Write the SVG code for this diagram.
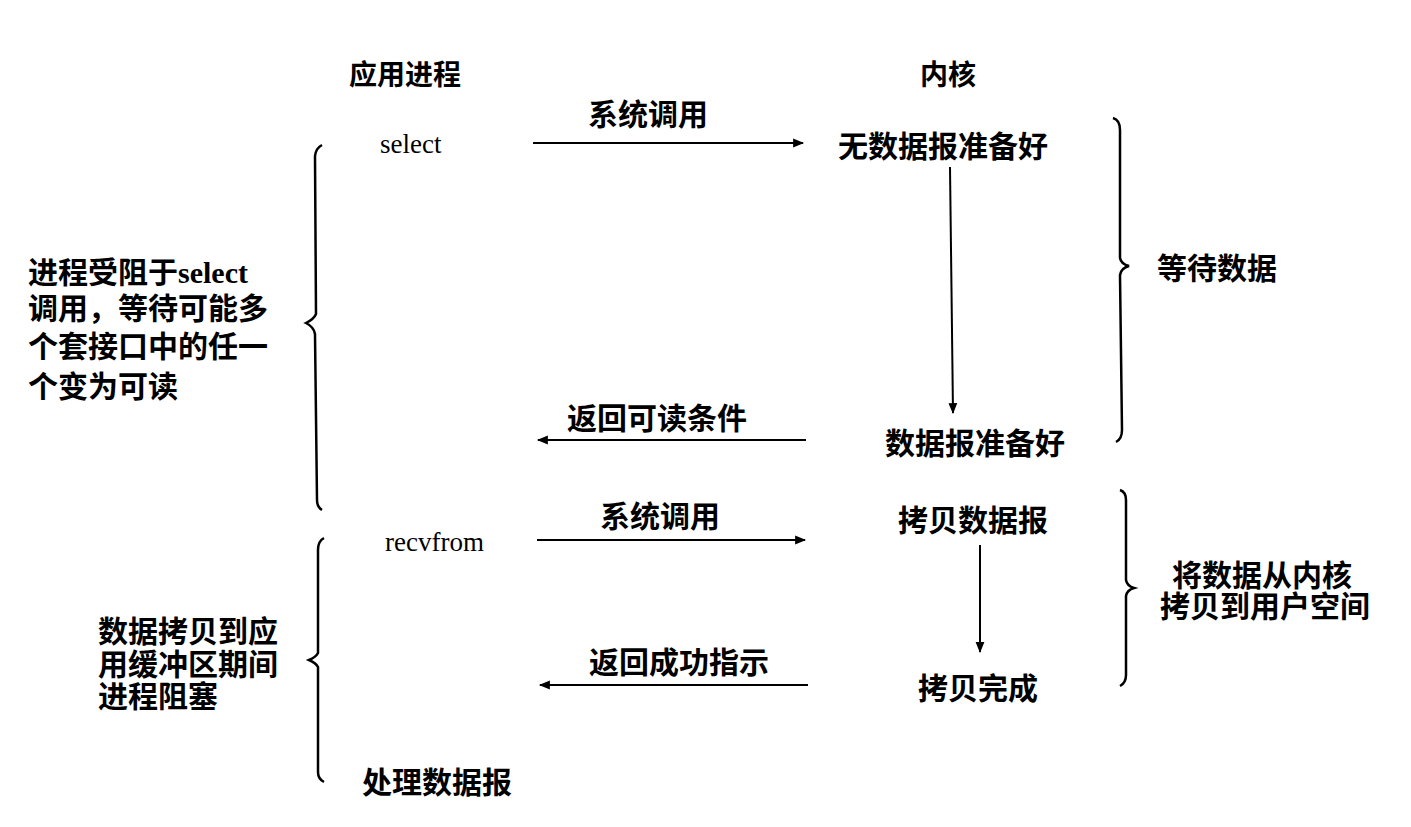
<svg xmlns="http://www.w3.org/2000/svg" width="1411" height="827" viewBox="0 0 1411 827">
<style>
.t{font-family:"Liberation Serif","Noto Sans CJK SC",serif;font-size:30px;fill:#000;font-weight:bold}
.h{font-family:"Noto Sans CJK SC",sans-serif;font-size:28px;font-weight:bold;fill:#000}
.e{font-family:"Liberation Serif",serif;font-size:27px;fill:#000}
.ln{stroke:#000;stroke-width:2;fill:none}
.br{stroke:#000;stroke-width:2.5;fill:none}
</style>
<defs>
<marker id="ah" viewBox="0 0 10 10" refX="9" refY="5" markerWidth="16" markerHeight="11" markerUnits="userSpaceOnUse" orient="auto">
<path d="M0,1 L10,5 L0,9 Z" fill="#000"/>
</marker>
</defs>
<rect width="1411" height="827" fill="#fff"/>
<g id="headers">
<text class="h" x="349" y="85">应用进程</text>
<text class="h" x="920" y="85">内核</text>
</g>
<g id="connectors">
<line class="ln" x1="533" y1="143" x2="803" y2="143" marker-end="url(#ah)"/>
<line class="ln" x1="950" y1="167" x2="953" y2="413" marker-end="url(#ah)"/>
<line class="ln" x1="806" y1="440" x2="538" y2="440" marker-end="url(#ah)"/>
<line class="ln" x1="537" y1="540" x2="805" y2="540" marker-end="url(#ah)"/>
<line class="ln" x1="980" y1="545" x2="980" y2="652" marker-end="url(#ah)"/>
<line class="ln" x1="808" y1="685" x2="540" y2="685" marker-end="url(#ah)"/>
</g>
<g id="app-select"><text class="e" x="380" y="153">select</text></g>
<g id="label-syscall1"><text class="t" x="588" y="125">系统调用</text></g>
<g id="k-noready"><text class="t" x="838" y="157">无数据报准备好</text></g>
<g id="k-ready"><text class="t" x="885" y="454">数据报准备好</text></g>
<g id="label-ret1"><text class="t" x="567" y="429">返回可读条件</text></g>
<g id="app-recvfrom"><text class="e" x="385" y="551">recvfrom</text></g>
<g id="label-syscall2"><text class="t" x="600" y="527">系统调用</text></g>
<g id="k-copy"><text class="t" x="898" y="531">拷贝数据报</text></g>
<g id="k-done"><text class="t" x="918" y="699">拷贝完成</text></g>
<g id="label-ret2"><text class="t" x="589" y="673">返回成功指示</text></g>
<g id="app-process"><text class="t" x="362" y="793">处理数据报</text></g>
<g id="brace-wait">
<path class="br" d="M1113,118 Q1120,120 1120,130 L1120,258 Q1121,264 1129,266 Q1121,268 1120,275 L1122,430 Q1122,439 1116,442"/>
<text class="t" x="1157" y="279">等待数据</text>
</g>
<g id="brace-copy">
<path class="br" d="M1120,490 Q1126,492 1126,500 L1126,580 Q1127,586 1134,588 Q1127,590 1126,596 L1126,675 Q1126,683 1120,686"/>
<text class="t" x="1172" y="586">将数据从内核</text>
<text class="t" x="1160" y="617">拷贝到用户空间</text>
</g>
<g id="brace-block">
<path class="br" d="M322,145 Q316,148 315,156 L316,314 Q314,319 306,323 Q314,327 315,334 L317,500 Q317,507 322,510"/>
<text class="t" x="28" y="283">进程受阻于select</text>
<text class="t" x="28" y="319">调用，等待可能多</text>
<text class="t" x="28" y="357">个套接口中的任一</text>
<text class="t" x="28" y="397">个变为可读</text>
</g>
<g id="brace-copyblock">
<path class="br" d="M324,538 Q318,541 318,550 L318,653 Q316,657 309,660 Q316,663 318,667 L318,772 Q318,779 324,782"/>
<text class="t" x="98" y="642">数据拷贝到应</text>
<text class="t" x="98" y="675">用缓冲区期间</text>
<text class="t" x="98" y="707">进程阻塞</text>
</g>
</svg>
